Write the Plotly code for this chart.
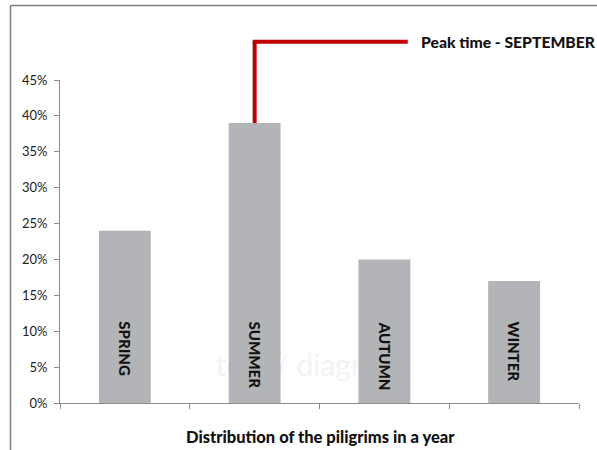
import plotly.graph_objects as go

# Share of pilgrims per season
seasons = ["SPRING", "SUMMER", "AUTUMN", "WINTER"]
shares = [0.24, 0.39, 0.20, 0.17]

y_ticks = [0.0, 0.05, 0.10, 0.15, 0.20, 0.25, 0.30, 0.35, 0.40, 0.45]
y_tick_text = ["0%", "5%", "10%", "15%", "20%", "25%", "30%", "35%", "40%", "45%"]

peak_label = "Peak time - SEPTEMBER"
chart_title = "Distribution of the piligrims in a year"
watermark = "text / diagram"

Y_MAX = 0.45
AXIS_GREY = "#8c8c8c"
BAR_GREY = "#b2b4b7"
PEAK_RED = "#c00000"
FONT = "Lato"
HEAVY = 900

fig = go.Figure()
fig.add_trace(go.Bar(
    x=seasons,
    y=shares,
    marker=dict(color=BAR_GREY, line=dict(width=0)),
    hoverinfo="skip",
))

# Season names written vertically inside each bar
for s in seasons:
    fig.add_annotation(
        x=s, y=0.116, xref="x", yref="y",
        text=s, textangle=90, showarrow=False,
        yanchor="top", xanchor="center",
        font=dict(family=FONT, size=15, color="#111111", weight=HEAVY),
    )

# Callout from the tallest bar to the peak label
peak_i = max(range(len(shares)), key=lambda i: shares[i])
callout_y = 1.1185
fig.add_shape(type="line", xref="x", yref="paper",
              x0=peak_i, x1=peak_i, y0=shares[peak_i] / Y_MAX, y1=callout_y,
              line=dict(color=PEAK_RED, width=4), layer="above")
fig.add_shape(type="line", xref="x", yref="paper",
              x0=peak_i - 0.015, x1=peak_i + 1.18, y0=callout_y, y1=callout_y,
              line=dict(color=PEAK_RED, width=4), layer="above")
fig.add_annotation(
    x=0.6917, y=callout_y, xref="paper", yref="paper",
    text=peak_label, showarrow=False,
    xanchor="left", yanchor="middle",
    font=dict(family=FONT, size=15.7, color="#111111", weight=HEAVY),
)

# Axis caption
fig.add_annotation(
    x=0.502, y=-0.104, xref="paper", yref="paper",
    text=chart_title, showarrow=False,
    xanchor="center", yanchor="middle",
    font=dict(family=FONT, size=16.5, color="#111111", weight=HEAVY),
)

# Faint watermark behind the bars
fig.add_shape(type="rect", xref="paper", yref="paper",
              x0=0.288, x1=0.293, y0=0.11, y1=0.13,
              line=dict(width=0), fillcolor="rgba(0,0,0,0)", layer="below",
              label=dict(text=watermark, textposition="middle left",
                         font=dict(family=FONT, size=30, color="#f3f3f3")))

# Frame around the chart (left and top edges)
fig.add_shape(type="line", xref="paper", yref="paper",
              x0=-0.0954, x1=-0.0954, y0=-0.15, y1=1.2304,
              line=dict(color="#7f7f7f", width=1.5))
fig.add_shape(type="line", xref="paper", yref="paper",
              x0=-0.0954, x1=1.04, y0=1.2304, y1=1.2304,
              line=dict(color="#7f7f7f", width=1.5))

fig.update_layout(
    width=597, height=450,
    margin=dict(l=60, r=18, t=80, b=47),
    paper_bgcolor="white", plot_bgcolor="white",
    bargap=0.6, showlegend=False,
    font=dict(family=FONT, size=12, color="#222222"),
)
fig.update_xaxes(
    type="category", showticklabels=False, showgrid=False, zeroline=False,
    showline=True, linecolor=AXIS_GREY, linewidth=1,
    ticks="outside", tickson="boundaries", ticklen=5, tickcolor=AXIS_GREY,
)
fig.update_yaxes(
    range=[0, Y_MAX], tickvals=y_ticks, ticktext=y_tick_text,
    showgrid=False, zeroline=False,
    showline=True, linecolor=AXIS_GREY, linewidth=1,
    ticks="outside", ticklen=5, tickcolor=AXIS_GREY, ticklabelstandoff=4,
    tickfont=dict(family=FONT, size=13, color="#222222"),
)

fig.write_html("out.html")
